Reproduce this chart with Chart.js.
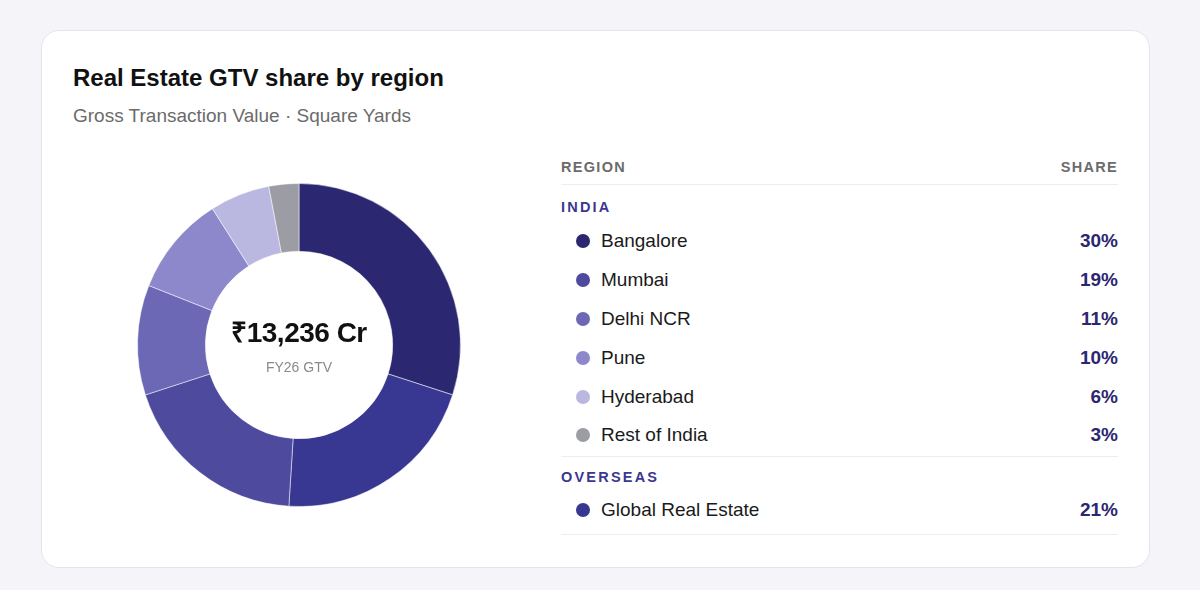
<!DOCTYPE html>
<html>
<head>
<meta charset="utf-8">
<script src="https://cdn.jsdelivr.net/npm/chart.js@4"></script>
<style>
  html, body { margin: 0; padding: 0; }
  body {
    width: 1200px; height: 590px; background: #f4f4f9;
    font-family: "Liberation Sans", Arial, sans-serif; position: relative; overflow: hidden;
  }
  .card {
    position: absolute; left: 41px; top: 30px; width: 1109px; height: 538px;
    background: #fff; border: 1px solid #e4e4ee; border-radius: 18px; box-sizing: border-box;
  }
  h1 { position: absolute; left: 31px; top: 33px; margin: 0; font-size: 24px; font-weight: bold; color: #111; }
  .sub { position: absolute; left: 31px; top: 74px; font-size: 19px; color: #6b6b6b; }
  .chartbox { position: absolute; left: 89px; top: 146px; width: 336px; height: 336px; }
  .center { position: absolute; left: 89px; top: 146px; width: 336px; height: 336px; pointer-events: none; }
  .center .big { position: absolute; width: 100%; top: 135px; text-align: center; font-size: 28px; font-weight: bold; color: #111; letter-spacing: -0.5px; }
  .center .small { position: absolute; width: 100%; top: 182px; text-align: center; font-size: 14px; color: #8a8a8a; }
  .legend { position: absolute; left: 519px; top: 119px; width: 557px; }
  .hd { display: flex; justify-content: space-between; align-items: center; height: 34px; border-bottom: 1px solid #ececf2;
        font-size: 14.5px; font-weight: bold; color: #6b6b6b; letter-spacing: 1.3px; }
  .grp { display: flex; align-items: center; box-sizing: border-box; font-size: 14.5px; font-weight: bold; letter-spacing: 2.2px; color: #3b3790; }
  .row { display: flex; justify-content: space-between; align-items: center; height: 39px; box-sizing: border-box; font-size: 19px; color: #1a1a1a; }
  .row.last { border-bottom: 1px solid #ececf2; }
  .dot { display: inline-block; width: 14px; height: 14px; border-radius: 50%; margin: 0 11px 0 15px; vertical-align: -1px; }
  .v { font-weight: bold; color: #2b2770; }
</style>
</head>
<body>
<div class="card">
  <h1>Real Estate GTV share by region</h1>
  <div class="sub">Gross Transaction Value · Square Yards</div>
  <div class="chartbox"><canvas id="donut"></canvas></div>
  <div class="center"><div class="big">₹13,236 Cr</div><div class="small">FY26 GTV</div></div>
  <div class="legend" id="legend"></div>
</div>
<script>
// donut order, clockwise from top
const regions = ['Bangalore', 'Global Real Estate', 'Mumbai', 'Delhi NCR', 'Pune', 'Hyderabad', 'Rest of India'];
const shares = [30, 21, 19, 11, 10, 6, 3];
const colors = ['#2b2770', '#383893', '#4e4a9e', '#6c68b6', '#8d88cc', '#bab7e0', '#9c9ca4'];
const groups = [
  { name: 'INDIA', items: ['Bangalore', 'Mumbai', 'Delhi NCR', 'Pune', 'Hyderabad', 'Rest of India'] },
  { name: 'OVERSEAS', items: ['Global Real Estate'] },
];

new Chart(document.getElementById('donut'), {
  type: 'doughnut',
  data: {
    labels: regions,
    datasets: [{
      data: shares,
      backgroundColor: colors,
      borderColor: 'rgba(255,255,255,0.5)',
      borderWidth: 1,
    }],
  },
  options: {
    responsive: true,
    maintainAspectRatio: false,
    animation: false,
    cutout: '58%',
    layout: { padding: 6 },
    plugins: { legend: { display: false }, tooltip: { enabled: false } },
  },
});

// group header sizes: [height, padding-top]; last row bottom padding
const groupBox = [[36, 8], [34, 6]];
const lastPad = [2, 5];

const legend = document.getElementById('legend');
let html = '<div class="hd"><span>REGION</span><span>SHARE</span></div>';
groups.forEach(function (g, gi) {
  html += '<div class="grp" style="height:' + groupBox[gi][0] + 'px;padding-top:' + groupBox[gi][1] + 'px">' + g.name + '</div>';
  g.items.forEach(function (name, i) {
    const idx = regions.indexOf(name);
    const last = i === g.items.length - 1;
    const style = last ? ' style="height:' + (39 + lastPad[gi]) + 'px;padding-bottom:' + lastPad[gi] + 'px"' : '';
    html += '<div class="row' + (last ? ' last' : '') + '"' + style + '><span><span class="dot" style="background:' +
      colors[idx] + '"></span>' + name + '</span><span class="v">' + shares[idx] + '%</span></div>';
  });
});
legend.innerHTML = html;
</script>
</body>
</html>
